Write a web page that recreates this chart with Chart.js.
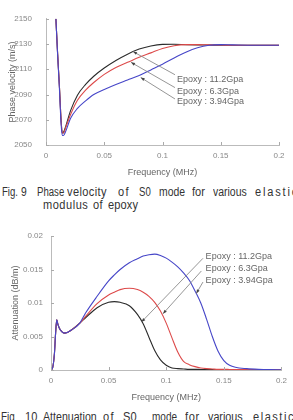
<!DOCTYPE html>
<html>
<head>
<meta charset="utf-8">
<script src="https://cdn.jsdelivr.net/npm/chart.js@4.4.0/dist/chart.umd.min.js"></script>
<style>
body { margin:0; background:#fff; width:293px; height:420px; overflow:hidden; position:relative;
  font-family:"Liberation Sans",Arial,sans-serif; }
.box { position:absolute; left:0; width:293px; }
#top { top:0; height:180px; }
#bot { top:215px; height:190px; }
.cap span { position:absolute; white-space:nowrap; font-size:12px; line-height:14px; color:#333;
  transform-origin:0 0; }
</style>
</head>
<body>
<div class="box" id="top"><canvas id="chart1"></canvas></div>
<div class="cap">
  <span style="left:2px;top:185px" data-w="15">Fig.</span><span style="left:21px;top:185px" data-w="6">9</span>
  <span style="left:37px;top:185px" data-w="27">Phase</span><span style="left:67px;top:185px" data-w="40">velocity</span>
  <span style="left:118px;top:185px" data-w="12">of</span><span style="left:139px;top:185px" data-w="12">S0</span>
  <span style="left:159px;top:185px" data-w="26">mode</span><span style="left:192px;top:185px" data-w="13">for</span>
  <span style="left:213px;top:185px" data-w="34">various</span><span style="left:255px;top:185px" data-w="44">elastic</span>
  <span style="left:43px;top:198px" data-w="45">modulus</span><span style="left:93px;top:198px" data-w="10">of</span>
  <span style="left:108px;top:198px" data-w="30">epoxy</span>
</div>
<div class="box" id="bot"><canvas id="chart2"></canvas></div>
<div class="cap">
  <span style="left:1px;top:410px" data-w="14">Fig</span><span style="left:25px;top:410px" data-w="12">10</span>
  <span style="left:43px;top:410px" data-w="54">Attenuation</span><span style="left:103px;top:410px" data-w="12">of</span>
  <span style="left:123px;top:410px" data-w="14">S0</span><span style="left:152px;top:410px" data-w="25">mode</span>
  <span style="left:185px;top:410px" data-w="15">for</span><span style="left:208px;top:410px" data-w="35">various</span>
  <span style="left:253px;top:410px" data-w="42">elastic</span>
</div>
<script>
// Fig. 9 - phase velocity (m/s)
var freqTop = [0.0085, 0.010, 0.0115, 0.013, 0.014, 0.015, 0.017, 0.021, 0.027, 0.034, 0.041, 0.05, 0.06, 0.07, 0.08, 0.09, 0.1, 0.11, 0.12, 0.13, 0.14, 0.15, 0.16, 0.18, 0.2];
var velEpoxy112 = [2150, 2122, 2097, 2069, 2059.5, 2060, 2065, 2077, 2089.5, 2098, 2104.5, 2111, 2117, 2122, 2126, 2128.5, 2129.7, 2129.8, 2129.5, 2129.3, 2129.2, 2129, 2129, 2129, 2129];
var velEpoxy63 = [2150, 2122, 2097, 2069, 2059.5, 2059.5, 2064, 2074, 2085.5, 2093.5, 2099.5, 2106, 2111.5, 2115.5, 2119.5, 2123, 2126.5, 2128.7, 2129.5, 2129.5, 2129.3, 2129.2, 2129, 2129, 2129];
var velEpoxy394 = [2150, 2121, 2095, 2066, 2057.5, 2057.5, 2061, 2071, 2079, 2085, 2090, 2094, 2098, 2101.5, 2105, 2109.5, 2114, 2119, 2123.5, 2127, 2129, 2129.5, 2129.3, 2129, 2129];

// Fig. 10 - attenuation (dB/m)
var freqBot = [0, 0.0015, 0.003, 0.004, 0.005, 0.006, 0.008, 0.012, 0.018, 0.025, 0.03, 0.04, 0.05, 0.055, 0.06, 0.068, 0.075, 0.08, 0.085, 0.09, 0.095, 0.1, 0.105, 0.11, 0.115, 0.12, 0.125, 0.13, 0.135, 0.14, 0.145, 0.15, 0.155, 0.16, 0.17, 0.18, 0.19, 0.2];
var attEpoxy112 = [0, 0.0004, 0.0025, 0.0055, 0.0075, 0.0068, 0.006, 0.0055, 0.006, 0.0070, 0.0078, 0.0093, 0.0101, 0.0102, 0.0101, 0.0096, 0.0083, 0.0069, 0.0049, 0.0029, 0.0015, 0.0007, 0.0003, 0.0002, 0.00015, 0.0001, 0.0001, 0.00008, 0.00006, 0.00005, 0.00004, 0.00003, 0.00003, 0.00002, 0.00002, 0.00001, 0.00001, 0.00001];
var attEpoxy63 = [0, 0.0004, 0.0025, 0.0055, 0.0075, 0.0068, 0.006, 0.0055, 0.006, 0.0070, 0.0080, 0.0099, 0.0112, 0.0116, 0.0120, 0.0122, 0.0120, 0.0116, 0.0110, 0.0101, 0.0088, 0.0070, 0.0048, 0.0027, 0.0013, 0.0008, 0.0005, 0.0003, 0.0002, 0.00015, 0.0001, 0.0001, 0.00008, 0.00006, 0.00005, 0.00004, 0.00003, 0.00002];
var attEpoxy394 = [0, 0.0004, 0.0025, 0.0055, 0.0075, 0.0068, 0.006, 0.0055, 0.006, 0.0070, 0.0085, 0.0110, 0.0133, 0.0142, 0.0150, 0.0160, 0.0166, 0.0170, 0.0172, 0.0173, 0.0171, 0.0167, 0.0161, 0.0154, 0.0145, 0.0134, 0.0118, 0.0100, 0.0076, 0.0050, 0.0028, 0.0014, 0.0007, 0.0004, 0.0002, 0.0001, 0.00005, 0.00003];

var seriesNames = ['Epoxy : 11.2Gpa', 'Epoxy : 6.3Gpa', 'Epoxy : 3.94Gpa'];
var seriesColors = ['#2b2b2b', '#dd4a4a', '#4646c8'];

var fontFam = '"Liberation Sans",Arial,sans-serif';

// fit caption words to the widths in the scan: narrow the glyphs a bit,
// then open up letter spacing for whatever room is left
document.querySelectorAll('.cap span').forEach(function (s) {
    var w = +s.getAttribute('data-w');
    var nat = s.offsetWidth;
    var k = Math.min(0.92, Math.max(0.8, w / nat));
    var rest = w - nat * k;
    if (rest > 0) s.style.letterSpacing = (rest / k / s.textContent.length).toFixed(2) + 'px';
    s.style.transform = 'scaleX(' + k + ')';
});

function pts(xs, ys) {
    return xs.map(function (x, i) { return { x: x, y: ys[i] }; });
}

function makeSets(xs, lists) {
    return lists.map(function (ys, i) {
        return {
            label: seriesNames[i],
            data: pts(xs, ys),
            borderColor: seriesColors[i],
            borderWidth: 1.1,
            pointRadius: 0,
            cubicInterpolationMode: 'monotone',
            fill: false,
            order: 2 - i   // blue on top
        };
    });
}

// small inward tick marks like the original plot
var tickMarks = {
    id: 'tickMarks',
    afterDraw: function (chart) {
        var ctx = chart.ctx, xs = chart.scales.x, ys = chart.scales.y;
        ctx.save();
        ctx.strokeStyle = '#aaa';
        ctx.lineWidth = 1;
        ctx.beginPath();
        xs.ticks.forEach(function (t) {
            var px = Math.round(xs.getPixelForValue(t.value)) + 0.5;
            ctx.moveTo(px, ys.bottom);
            ctx.lineTo(px, ys.bottom - 3);
        });
        ys.ticks.forEach(function (t) {
            var py = Math.round(ys.getPixelForValue(t.value)) + 0.5;
            ctx.moveTo(xs.left, py);
            ctx.lineTo(xs.left + 3, py);
        });
        ctx.stroke();
        ctx.restore();
    }
};

// arrows + labels, given in data coordinates
var callouts = {
    id: 'callouts',
    afterDatasetsDraw: function (chart, args, opts) {
        var ctx = chart.ctx, xs = chart.scales.x, ys = chart.scales.y;
        ctx.save();
        opts.items.forEach(function (it, i) {
            var x0 = xs.getPixelForValue(it.from[0]), y0 = ys.getPixelForValue(it.from[1]);
            var x1 = xs.getPixelForValue(it.to[0]), y1 = ys.getPixelForValue(it.to[1]);
            ctx.strokeStyle = '#8a8a8a';
            ctx.lineWidth = 0.9;
            ctx.beginPath();
            ctx.moveTo(x0, y0);
            ctx.lineTo(x1, y1);
            ctx.stroke();
            var a = Math.atan2(y1 - y0, x1 - x0);
            ctx.fillStyle = '#444';
            ctx.beginPath();
            ctx.moveTo(x1, y1);
            ctx.lineTo(x1 - 4 * Math.cos(a) + 1.5 * Math.sin(a), y1 - 4 * Math.sin(a) - 1.5 * Math.cos(a));
            ctx.lineTo(x1 - 4 * Math.cos(a) - 1.5 * Math.sin(a), y1 - 4 * Math.sin(a) + 1.5 * Math.cos(a));
            ctx.closePath();
            ctx.fill();
            ctx.fillStyle = '#666';
            ctx.font = '9px ' + fontFam;
            ctx.textBaseline = 'middle';
            ctx.textAlign = 'left';
            ctx.fillText(seriesNames[i], xs.getPixelForValue(it.at[0]), ys.getPixelForValue(it.at[1]));
        });
        ctx.restore();
    }
};

function fmt(d) {
    return function (v) { return String(+v.toFixed(d)); };
}

function makeChart(id, sets, cfg) {
    return new Chart(document.getElementById(id), {
        type: 'line',
        data: { datasets: sets },
        plugins: [tickMarks, callouts],
        options: {
            responsive: true,
            maintainAspectRatio: false,
            animation: false,
            layout: { padding: cfg.pad },
            plugins: {
                legend: { display: false },
                tooltip: { enabled: false },
                callouts: { items: cfg.callouts }
            },
            scales: {
                x: {
                    type: 'linear', min: 0, max: 0.2,
                    afterFit: function (s) { s.height = cfg.xh; },
                    ticks: { stepSize: 0.05, callback: fmt(2), color: '#888', padding: 6, maxRotation: 0,
                             font: { size: 8, family: fontFam } },
                    grid: { display: false, drawTicks: false },
                    border: { display: true, color: '#bbb' },
                    title: { display: true, text: 'Frequency (MHz)', color: '#666',
                             font: { size: 9, family: fontFam }, padding: { top: 0, bottom: 2 } }
                },
                y: {
                    min: cfg.ymin, max: cfg.ymax,
                    afterFit: function (s) { s.width = cfg.yw; },
                    ticks: { stepSize: cfg.ystep, callback: fmt(3), color: '#888', padding: cfg.ypad,
                             font: { size: 8, family: fontFam } },
                    grid: { display: false, drawTicks: false },
                    border: { display: true, color: '#bbb' },
                    title: { display: true, text: cfg.ytitle, color: '#666',
                             font: { size: 9, family: fontFam }, padding: { top: cfg.ytp, bottom: 0 } }
                }
            }
        }
    });
}

makeChart('chart1', makeSets(freqTop, [velEpoxy112, velEpoxy63, velEpoxy394]), {
    pad: { top: 14, right: 14, left: 0, bottom: 0 },
    xh: 35, yw: 46, ypad: 14, ytp: 7,
    ymin: 2050, ymax: 2150, ystep: 20,
    ytitle: 'Phase velocity (m/s)',
    callouts: [
        { from: [0.1107, 2105.7], to: [0.0747, 2124], at: [0.1124, 2101.9] },
        { from: [0.1107, 2095.5], to: [0.073, 2115.5], at: [0.1124, 2092.7] },
        { from: [0.1107, 2086.5], to: [0.0813, 2103.5], at: [0.1124, 2084.4] }
    ]
});

makeChart('chart2', makeSets(freqBot, [attEpoxy112, attEpoxy63, attEpoxy394]), {
    pad: { top: 21, right: 11, left: 0, bottom: 0 },
    xh: 35, yw: 51, ypad: 8, ytp: 10,
    ymin: 0, ymax: 0.02, ystep: 0.005,
    ytitle: 'Attenuation (dB/m)',
    callouts: [
        { from: [0.1319, 0.01667], to: [0.0785, 0.00716], at: [0.1342, 0.0170] },
        { from: [0.1305, 0.01478], to: [0.0972, 0.0084], at: [0.1342, 0.01522] },
        { from: [0.1319, 0.01313], to: [0.1261, 0.01142], at: [0.1342, 0.01343] }
    ]
});
</script>
</body>
</html>
